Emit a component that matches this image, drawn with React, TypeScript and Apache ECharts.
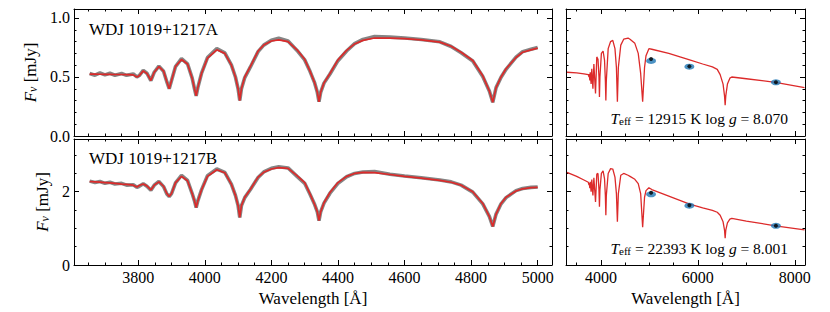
import React, { useEffect, useRef } from 'react';
import * as echarts from 'echarts';

// ---- Left panels: spectroscopy (wavelength in Å, flux in mJy) ----
const waveL = [
  3654, 3670, 3685, 3700, 3715, 3730, 3750, 3765, 3785, 3796,
  3803, 3815, 3826, 3838, 3848, 3862, 3876, 3886, 3893, 3900,
  3912, 3930, 3948, 3962, 3969, 3974, 3979, 3990, 4008, 4036,
  4060, 4080, 4092, 4100, 4105, 4110, 4120, 4137, 4160, 4177,
  4200, 4222, 4250, 4277, 4300, 4316, 4330, 4338, 4343, 4348,
  4358, 4376, 4400, 4426, 4450, 4475, 4510, 4556, 4600, 4650,
  4706, 4740, 4770, 4805, 4835, 4855, 4865, 4875, 4890, 4905,
  4935, 4955, 4980, 5000,
];
const modelA = [
  0.525, 0.524, 0.523, 0.522, 0.522, 0.521, 0.521, 0.520, 0.518, 0.500,
  0.510, 0.552, 0.530, 0.470, 0.540, 0.588, 0.550, 0.460, 0.400, 0.470,
  0.590, 0.648, 0.610, 0.490, 0.400, 0.340, 0.410, 0.530, 0.660, 0.730,
  0.700, 0.600, 0.500, 0.400, 0.300, 0.400, 0.500, 0.590, 0.720, 0.770,
  0.805, 0.815, 0.800, 0.730, 0.650, 0.550, 0.450, 0.370, 0.290, 0.370,
  0.450, 0.530, 0.645, 0.725, 0.780, 0.810, 0.830, 0.830, 0.825, 0.815,
  0.795, 0.760, 0.710, 0.640, 0.510, 0.380, 0.285, 0.410, 0.500, 0.570,
  0.665, 0.710, 0.730, 0.745,
];
const obsA = [
  0.530, 0.515, 0.535, 0.518, 0.532, 0.515, 0.530, 0.514, 0.526, 0.500,
  0.512, 0.556, 0.532, 0.470, 0.540, 0.592, 0.548, 0.458, 0.400, 0.470,
  0.588, 0.655, 0.612, 0.490, 0.400, 0.340, 0.410, 0.530, 0.665, 0.740,
  0.705, 0.600, 0.500, 0.400, 0.300, 0.400, 0.495, 0.585, 0.715, 0.770,
  0.812, 0.828, 0.805, 0.725, 0.645, 0.548, 0.450, 0.370, 0.290, 0.370,
  0.448, 0.525, 0.638, 0.720, 0.782, 0.818, 0.842, 0.838, 0.830, 0.818,
  0.798, 0.758, 0.705, 0.635, 0.505, 0.380, 0.285, 0.410, 0.498, 0.565,
  0.668, 0.715, 0.735, 0.750,
];
const modelB = [
  2.28, 2.27, 2.26, 2.25, 2.24, 2.23, 2.21, 2.20, 2.18, 2.13,
  2.17, 2.21, 2.16, 2.05, 2.18, 2.27, 2.15, 1.95, 1.87, 1.95,
  2.25, 2.42, 2.30, 1.95, 1.75, 1.57, 1.75, 2.05, 2.42, 2.60,
  2.52, 2.20, 1.90, 1.62, 1.30, 1.62, 1.85, 2.07, 2.40, 2.53,
  2.62, 2.66, 2.64, 2.44, 2.25, 1.94, 1.65, 1.45, 1.21, 1.45,
  1.70, 1.98, 2.25, 2.42, 2.50, 2.53, 2.52, 2.47, 2.42, 2.37,
  2.31, 2.26, 2.18, 2.00, 1.68, 1.32, 1.05, 1.39, 1.68, 1.85,
  2.02, 2.08, 2.11, 2.12,
];
const obsB = [
  2.29, 2.25, 2.28, 2.23, 2.26, 2.21, 2.23, 2.18, 2.19, 2.12,
  2.15, 2.22, 2.15, 2.04, 2.18, 2.28, 2.14, 1.94, 1.87, 1.95,
  2.24, 2.45, 2.31, 1.95, 1.75, 1.57, 1.75, 2.05, 2.44, 2.62,
  2.53, 2.20, 1.90, 1.62, 1.30, 1.62, 1.84, 2.06, 2.39, 2.54,
  2.64, 2.68, 2.65, 2.42, 2.23, 1.93, 1.65, 1.45, 1.21, 1.45,
  1.69, 1.96, 2.23, 2.41, 2.50, 2.54, 2.55, 2.48, 2.43, 2.38,
  2.32, 2.27, 2.18, 1.99, 1.67, 1.32, 1.05, 1.39, 1.67, 1.84,
  2.03, 2.09, 2.12, 2.13,
];

// ---- Right panels: model SED + photometry ----
const waveR = [
  3300, 3500, 3650, 3740, 3755, 3762, 3771, 3780, 3798, 3812,
  3835, 3855, 3889, 3915, 3940, 3960, 3970, 3980, 4010, 4045,
  4075, 4092, 4102, 4112, 4150, 4200, 4245, 4290, 4320, 4340,
  4360, 4410, 4470, 4560, 4600, 4700, 4770, 4820, 4861, 4900,
  4930, 4990, 5050, 5400, 5830, 6100, 6300, 6400, 6460, 6520,
  6550, 6563, 6576, 6610, 6660, 6700, 7000, 7600, 8200,
];
const sedA = [
  0.540, 0.535, 0.527, 0.520, 0.500, 0.525, 0.470, 0.540, 0.440, 0.570,
  0.400, 0.610, 0.360, 0.670, 0.650, 0.500, 0.330, 0.500, 0.700, 0.720,
  0.640, 0.470, 0.300, 0.470, 0.740, 0.800, 0.810, 0.740, 0.580, 0.290,
  0.580, 0.770, 0.820, 0.830, 0.820, 0.785, 0.700, 0.530, 0.290, 0.580,
  0.680, 0.740, 0.735, 0.700, 0.645, 0.610, 0.585, 0.565, 0.520, 0.440,
  0.340, 0.260, 0.340, 0.440, 0.490, 0.500, 0.485, 0.455, 0.410,
];
const sedB = [
  2.53, 2.42, 2.32, 2.26, 2.18, 2.24, 2.10, 2.27, 2.00, 2.33,
  1.90, 2.38, 1.72, 2.48, 2.50, 2.05, 1.59, 2.05, 2.50, 2.57,
  2.35, 1.90, 1.36, 1.90, 2.50, 2.63, 2.62, 2.40, 1.95, 1.18,
  1.95, 2.45, 2.50, 2.45, 2.42, 2.34, 2.22, 1.95, 1.03, 1.85,
  2.03, 2.11, 2.06, 1.88, 1.66, 1.56, 1.49, 1.44, 1.36, 1.18,
  0.95, 0.73, 0.95, 1.15, 1.25, 1.27, 1.20, 1.07, 0.96,
];
const photWave = [5035, 5825, 7610];
const photObsA = [0.636, 0.587, 0.455];
const photModA = [0.653, 0.590, 0.455];
const photObsB = [1.93, 1.62, 1.07];
const photModB = [1.97, 1.63, 1.07];

const nameA = 'WDJ 1019+1217A';
const nameB = 'WDJ 1019+1217B';
const teffA = '12915';
const loggA = '8.070';
const teffB = '22393';
const loggB = '8.001';

const FONT = '"Liberation Serif", "DejaVu Serif", serif';
const RED = '#dc2a2a';
const GRAY = '#858585';
const BLUE = '#1f77b4';

const pairs = (xs: number[], ys: number[]) => xs.map((x, i) => [x, ys[i]]);

function xAx(grid: number, pos: string, min: number, max: number, iv: number, minor: number, showLabel: boolean) {
  return {
    type: 'value', gridIndex: grid, position: pos, min, max,
    minInterval: iv, maxInterval: iv, splitNumber: 6,
    axisLine: { show: true, onZero: false, lineStyle: { color: '#000', width: 1 } },
    axisTick: { show: true, inside: true, length: 5, lineStyle: { color: '#000', width: 1 } },
    minorTick: { show: true, splitNumber: minor, length: 2.5, lineStyle: { color: '#000', width: 1 } },
    splitLine: { show: false }, minorSplitLine: { show: false },
    axisLabel: {
      show: showLabel, color: '#000', fontFamily: FONT, fontSize: 16, margin: 4,
      formatter: (v: number) => (Math.abs(v % iv) < 1e-6 ? String(v) : ''),
    },
    name: showLabel ? 'Wavelength [Å]' : '',
    nameLocation: 'middle', nameGap: 25,
    nameTextStyle: { color: '#000', fontFamily: FONT, fontSize: 17 },
  };
}

function yAx(grid: number, pos: string, max: number, iv: number, minor: number, showLabel: boolean, dec: number, nameGap: number) {
  return {
    type: 'value', gridIndex: grid, position: pos, min: 0, max, interval: iv,
    axisLine: { show: true, onZero: false, lineStyle: { color: '#000', width: 1 } },
    axisTick: { show: true, inside: true, length: 5, lineStyle: { color: '#000', width: 1 } },
    minorTick: { show: true, splitNumber: minor, length: 2.5, lineStyle: { color: '#000', width: 1 } },
    splitLine: { show: false }, minorSplitLine: { show: false },
    axisLabel: {
      show: showLabel, color: '#000', fontFamily: FONT, fontSize: 16, margin: 4,
      formatter: (v: number) => {
        const k = v / iv;
        return Math.abs(k - Math.round(k)) < 1e-6 ? v.toFixed(dec) : '';
      },
    },
    name: showLabel ? '{i|F}{s|ν}{n| [mJy]}' : '',
    nameLocation: 'middle', nameGap, nameRotate: 90,
    nameTextStyle: {
      color: '#000',
      rich: {
        i: { fontFamily: FONT, fontSize: 17, fontStyle: 'italic', lineHeight: 17, verticalAlign: 'middle' },
        s: { fontFamily: FONT, fontSize: 12, fontStyle: 'italic', lineHeight: 10, verticalAlign: 'bottom' },
        n: { fontFamily: FONT, fontSize: 17, lineHeight: 17, verticalAlign: 'middle' },
      },
    },
  };
}

const teffText = (t: string, g: string) => `{i|T}{s|eff}{n| = ${t} K log }{i|g}{n| = ${g}}`;
const teffRich = {
  i: { fontFamily: FONT, fontSize: 15.5, fontStyle: 'italic', lineHeight: 16, verticalAlign: 'middle', fill: '#000' },
  s: { fontFamily: FONT, fontSize: 11, lineHeight: 9, verticalAlign: 'bottom', fill: '#000' },
  n: { fontFamily: FONT, fontSize: 15.5, lineHeight: 16, verticalAlign: 'middle', fill: '#000' },
};

export default function App() {
  const ref = useRef<HTMLDivElement>(null);
  useEffect(() => {
    if (!ref.current) return;
    const chart = echarts.init(ref.current, undefined, { renderer: 'svg' });
    const TOPMAX = 1.076;
    const BOTMAX = 3.44;
    const option: any = {
      animation: false,
      backgroundColor: '#fff',
      grid: [
        { left: 74, top: 9, width: 478, height: 127, outerBoundsMode: 'none' },
        { left: 74, top: 139, width: 478, height: 126, outerBoundsMode: 'none' },
        { left: 566, top: 9, width: 239, height: 127, outerBoundsMode: 'none' },
        { left: 566, top: 139, width: 239, height: 126, outerBoundsMode: 'none' },
      ],
      xAxis: [
        xAx(0, 'bottom', 3607, 5043, 200, 4, false),
        xAx(0, 'top', 3607, 5043, 200, 4, false),
        xAx(1, 'bottom', 3607, 5043, 200, 4, true),
        xAx(1, 'top', 3607, 5043, 200, 4, false),
        xAx(2, 'bottom', 3280, 8210, 2000, 4, false),
        xAx(2, 'top', 3280, 8210, 2000, 4, false),
        xAx(3, 'bottom', 3280, 8210, 2000, 4, true),
        xAx(3, 'top', 3280, 8210, 2000, 4, false),
      ],
      yAxis: [
        yAx(0, 'left', TOPMAX, 0.5, 5, true, 1, 30),
        yAx(0, 'right', TOPMAX, 0.5, 5, false, 1, 0),
        yAx(1, 'left', BOTMAX, 2, 4, true, 0, 19),
        yAx(1, 'right', BOTMAX, 2, 4, false, 0, 0),
        yAx(2, 'left', TOPMAX, 0.5, 5, false, 1, 0),
        yAx(2, 'right', TOPMAX, 0.5, 5, false, 1, 0),
        yAx(3, 'left', BOTMAX, 2, 4, false, 0, 0),
        yAx(3, 'right', BOTMAX, 2, 4, false, 0, 0),
      ],
      series: [
        { type: 'line', xAxisIndex: 0, yAxisIndex: 0, data: pairs(waveL, obsA), showSymbol: false, lineStyle: { color: GRAY, width: 3.6 }, z: 1 },
        { type: 'line', xAxisIndex: 0, yAxisIndex: 0, data: pairs(waveL, modelA), showSymbol: false, lineStyle: { color: RED, width: 1.7 }, z: 2 },
        { type: 'line', xAxisIndex: 2, yAxisIndex: 2, data: pairs(waveL, obsB), showSymbol: false, lineStyle: { color: GRAY, width: 3.6 }, z: 1 },
        { type: 'line', xAxisIndex: 2, yAxisIndex: 2, data: pairs(waveL, modelB), showSymbol: false, lineStyle: { color: RED, width: 1.7 }, z: 2 },
        { type: 'line', xAxisIndex: 4, yAxisIndex: 4, data: pairs(waveR, sedA), showSymbol: false, lineStyle: { color: RED, width: 1.3 }, z: 2 },
        { type: 'scatter', xAxisIndex: 4, yAxisIndex: 4, data: pairs(photWave, photObsA), symbol: 'circle', symbolSize: [10, 6], itemStyle: { color: BLUE }, z: 3 },
        { type: 'scatter', xAxisIndex: 4, yAxisIndex: 4, data: pairs(photWave, photModA), symbol: 'circle', symbolSize: 4, itemStyle: { color: '#000' }, z: 4 },
        { type: 'line', xAxisIndex: 6, yAxisIndex: 6, data: pairs(waveR, sedB), showSymbol: false, lineStyle: { color: RED, width: 1.3 }, z: 2 },
        { type: 'scatter', xAxisIndex: 6, yAxisIndex: 6, data: pairs(photWave, photObsB), symbol: 'circle', symbolSize: [10, 6], itemStyle: { color: BLUE }, z: 3 },
        { type: 'scatter', xAxisIndex: 6, yAxisIndex: 6, data: pairs(photWave, photModB), symbol: 'circle', symbolSize: 4, itemStyle: { color: '#000' }, z: 4 },
      ],
      graphic: [
        { type: 'text', x: 89, y: 29.5, style: { text: nameA, fontFamily: FONT, fontSize: 17, fill: '#000', verticalAlign: 'middle' } },
        { type: 'text', x: 89, y: 158.5, style: { text: nameB, fontFamily: FONT, fontSize: 17, fill: '#000', verticalAlign: 'middle' } },
        { type: 'text', x: 788, y: 118.5, style: { text: teffText(teffA, loggA), rich: teffRich, align: 'right', verticalAlign: 'middle', fontFamily: FONT, fontSize: 15.5, fill: '#000' } },
        { type: 'text', x: 788, y: 248.5, style: { text: teffText(teffB, loggB), rich: teffRich, align: 'right', verticalAlign: 'middle', fontFamily: FONT, fontSize: 15.5, fill: '#000' } },
      ],
    };
    chart.setOption(option);
    return () => chart.dispose();
  }, []);
  return <div ref={ref} style={{ position: 'absolute', left: 0, top: 0, width: 830, height: 312 }} />;
}
